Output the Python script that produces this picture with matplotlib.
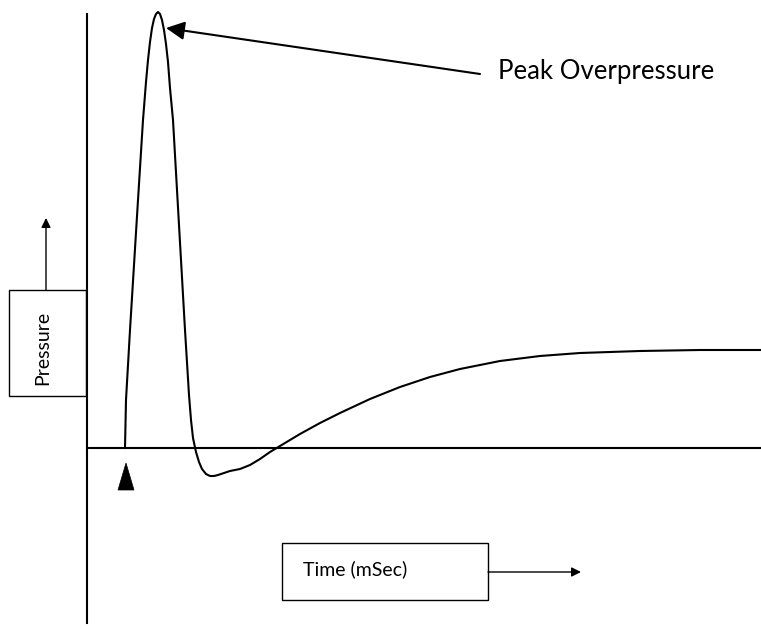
import matplotlib
matplotlib.use('Agg')
import numpy as np
import matplotlib.pyplot as plt
from matplotlib.patches import Rectangle, Polygon

# curve (x in px, y in px from top)
curve_x = [125, 126, 130, 134, 138, 143, 146, 148, 150, 152, 154, 156, 158, 160, 162,
           164, 166, 168, 170, 173, 177, 181, 185, 189, 191, 193, 196, 199, 202, 206,
           210, 214, 218, 224, 230, 240, 250, 260, 270, 280, 300, 320, 340, 370, 400,
           430, 460, 500, 540, 580, 640, 700, 761]
curve_y = [448, 400, 330, 265, 200, 120, 82, 60, 42, 28, 19, 14, 12, 14, 20,
           30, 44, 62, 88, 120, 190, 260, 330, 395, 420, 438, 452, 462, 469, 474,
           476, 476, 475, 473, 471, 469, 465, 459, 452, 446, 434, 423, 413, 399, 387,
           377, 369, 361, 356, 353, 351, 350, 350]

peak_label = 'Peak Overpressure'
y_label = 'Pressure'
x_label = 'Time (mSec)'

fig = plt.figure(figsize=(7.61, 6.29), dpi=100)
ax = fig.add_axes([0, 0, 1, 1])
ax.set_xlim(0, 761)
ax.set_ylim(629, 0)
ax.axis('off')

lw = 1.5
# axes lines
ax.plot([87, 87], [14, 623], color='black', lw=lw)
ax.plot([87, 761], [448, 448], color='black', lw=lw)

# pressure curve
ax.plot(curve_x, curve_y, color='black', lw=lw, solid_joinstyle='round')

# peak arrow + label
ax.annotate('', xy=(166, 28), xytext=(480, 74),
            arrowprops=dict(arrowstyle='-|>', color='black', lw=1.5,
                            mutation_scale=28, shrinkA=0, shrinkB=0))
ax.text(498, 72, peak_label, fontsize=18.5, family='Lato', va='center', ha='left')

# small arrowhead at start of curve
ax.add_patch(Polygon([[126, 463], [118, 490], [134, 490]], closed=True,
                     facecolor='black', edgecolor='black', lw=0.5))

# pressure box
ax.add_patch(Rectangle((9, 290), 77, 106, fill=False, edgecolor='black', lw=1))
ax.text(43, 348, y_label, rotation=90, fontsize=14, family='Lato', va='center', ha='center')
ax.annotate('', xy=(46, 218), xytext=(46, 290),
            arrowprops=dict(arrowstyle='-|>', color='black', lw=1,
                            mutation_scale=14, shrinkA=0, shrinkB=0))

# time box
ax.add_patch(Rectangle((282, 543), 206, 57, fill=False, edgecolor='black', lw=1))
ax.text(303, 569, x_label, fontsize=14, family='Lato', va='center', ha='left')
ax.annotate('', xy=(581, 572), xytext=(488, 572),
            arrowprops=dict(arrowstyle='-|>', color='black', lw=1,
                            mutation_scale=14, shrinkA=0, shrinkB=0))

fig.savefig('out.png', dpi=100)
